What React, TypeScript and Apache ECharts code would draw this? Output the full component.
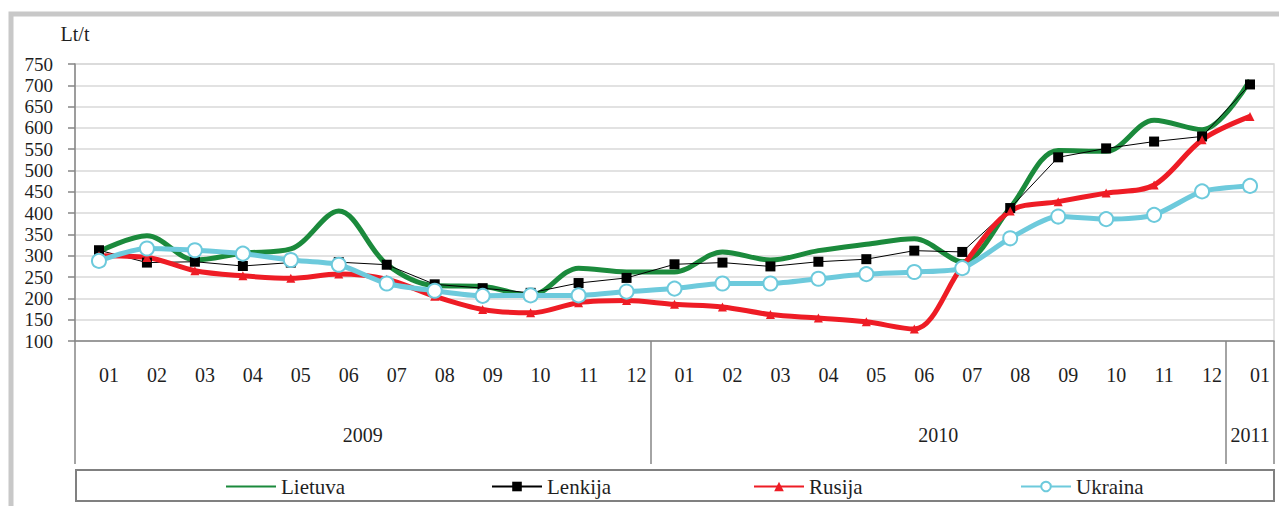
import React, { useEffect, useRef } from 'react';
import * as echarts from 'echarts';

const months = ['01', '02', '03', '04', '05', '06', '07', '08', '09', '10', '11', '12',
  '01', '02', '03', '04', '05', '06', '07', '08', '09', '10', '11', '12', '01'];

const years = ['2009', '2010', '2011'];
const yearCenters = [6, 18, 24.5];
const yearBoundaries = [0, 12, 24, 25];

const seriesNames = ['Lietuva', 'Lenkija', 'Rusija', 'Ukraina'];

const lietuva = [310, 347, 290, 306, 316, 405, 280, 230, 228, 207, 271, 262,
  262, 309, 290, 312, 327, 340, 286, 413, 547, 545, 618, 596, 712];
const lenkija = [313, 284, 286, 276, 284, 285, 279, 233, 224, 213, 236, 248,
  280, 284, 275, 286, 292, 312, 309, 412, 531, 552, 568, 580, 702];
const rusija = [300, 296, 265, 253, 247, 257, 245, 205, 174, 166, 190, 195,
  186, 180, 162, 154, 145, 128, 275, 405, 427, 447, 466, 572, 627];
const ukraina = [288, 317, 313, 305, 290, 279, 235, 218, 206, 207, 207, 216,
  223, 235, 235, 246, 257, 262, 271, 341, 392, 386, 396, 451, 464];

const yMin = 100;
const yMax = 750;
const yStep = 50;

export default function App() {
  const ref = useRef<HTMLDivElement>(null);

  useEffect(() => {
    if (!ref.current) return;
    const chart = echarts.init(ref.current, null, { renderer: 'svg' });
    const serif = 'Liberation Serif';
    const textColor = '#1f1f1f';
    const axisGray = '#868686';
    const green = '#1b8a3c';
    const red = '#ee1c25';
    const cyan = '#6dcadc';
    const legendLefts = [225, 491, 753, 1020];

    const legends = seriesNames.map((n, i) => {
      const base: any = {
        data: [n],
        left: legendLefts[i],
        top: 476,
        padding: 0,
        itemWidth: 50,
        itemHeight: 12,
        selectedMode: false,
        textStyle: { fontFamily: serif, fontSize: 21, color: textColor },
      };
      if (i === 0) base.itemStyle = { opacity: 0 };
      return base;
    });

    chart.setOption({
      animation: false,
      backgroundColor: '#ffffff',
      grid: {
        left: 75,
        right: 5,
        top: 64,
        bottom: 165,
        show: true,
        borderColor: '#d9d9d9',
        borderWidth: 1.5,
        backgroundColor: 'transparent',
      },
      graphic: [
        {
          type: 'rect',
          shape: { x: 11, y: 14, width: 1290, height: 520 },
          style: { fill: 'none', stroke: '#c8c8c8', lineWidth: 5 },
          silent: true,
        },
        {
          type: 'rect',
          shape: { x: 76, y: 470, width: 1198, height: 31 },
          style: { fill: 'none', stroke: '#808080', lineWidth: 2 },
          silent: true,
        },
      ],
      legend: legends,
      xAxis: [
        {
          type: 'category',
          data: months,
          boundaryGap: true,
          axisLine: { lineStyle: { color: axisGray, width: 1.5 } },
          axisTick: { interval: 0, length: 61, lineStyle: { color: axisGray, width: 1.5 } },
          axisLabel: {
            interval: 0,
            margin: 24,
            fontFamily: serif,
            fontSize: 20,
            color: textColor,
            padding: [0, 0, 0, 20],
          },
          splitLine: { show: false },
        },
        {
          type: 'value',
          min: 0,
          max: 25,
          position: 'bottom',
          axisLine: { show: false },
          splitLine: { show: false },
          axisTick: {
            show: true,
            customValues: yearBoundaries,
            length: 123,
            lineStyle: { color: axisGray, width: 1.5 },
          },
          axisLabel: {
            customValues: yearCenters,
            formatter: (v: number) => years[yearCenters.indexOf(v)] ?? '',
            margin: 84,
            fontFamily: serif,
            fontSize: 20,
            color: textColor,
          },
        },
      ],
      yAxis: {
        type: 'value',
        min: yMin,
        max: yMax,
        interval: yStep,
        name: 'Lt/t',
        nameLocation: 'end',
        nameGap: 20,
        nameTextStyle: { fontFamily: serif, fontSize: 20, color: textColor },
        axisLine: { show: true, lineStyle: { color: axisGray, width: 1.5 } },
        axisTick: { show: true, length: 7, lineStyle: { color: axisGray, width: 1.5 } },
        axisLabel: { fontFamily: serif, fontSize: 19, color: textColor, margin: 22 },
        splitLine: { lineStyle: { color: '#d9d9d9', width: 1.5 } },
      },
      series: [
        {
          name: seriesNames[0],
          type: 'line',
          data: lietuva,
          smooth: 0.33,
          symbol: 'none',
          lineStyle: { color: green, width: 5 },
          itemStyle: { color: green },
        },
        {
          name: seriesNames[1],
          type: 'line',
          data: lenkija,
          smooth: false,
          symbol: 'rect',
          symbolSize: 10,
          showAllSymbol: true,
          lineStyle: { color: '#000', width: 1 },
          itemStyle: { color: '#000' },
        },
        {
          name: seriesNames[2],
          type: 'line',
          data: rusija,
          smooth: 0.33,
          symbol: 'triangle',
          symbolSize: 9,
          showAllSymbol: true,
          lineStyle: { color: red, width: 5 },
          itemStyle: { color: red },
        },
        {
          name: seriesNames[3],
          type: 'line',
          data: ukraina,
          smooth: 0.25,
          symbol: 'circle',
          symbolSize: 14,
          showAllSymbol: true,
          lineStyle: { color: cyan, width: 5 },
          itemStyle: { color: '#ffffff', borderColor: cyan, borderWidth: 2 },
        },
      ],
    });

    return () => chart.dispose();
  }, []);

  return (
    <div
      ref={ref}
      style={{ position: 'fixed', left: 0, top: 0, width: 1279, height: 506, background: '#fff' }}
    />
  );
}
